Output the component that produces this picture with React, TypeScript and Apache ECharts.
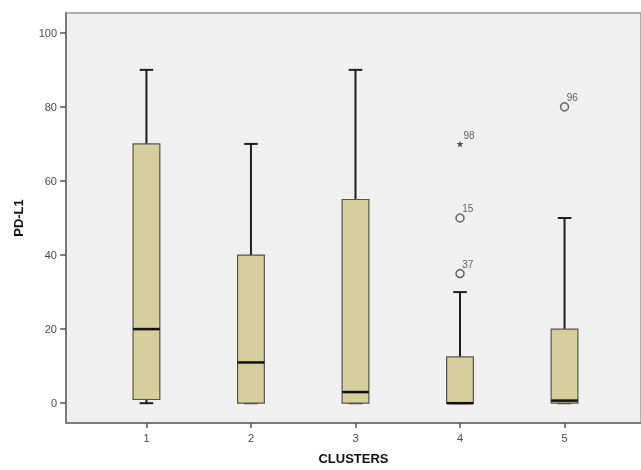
import React, { useEffect, useRef } from "react";
import * as echarts from "echarts";

const categories = [1, 2, 3, 4, 5];
const lowWhisker = [0, 0, 0, 0, 0];
const q1 = [1, 0, 0, 0, 0];
const median = [20, 11, 3, 0, 0.7];
const q3 = [70, 40, 55, 12.5, 20];
const highWhisker = [90, 70, 90, 30, 50];

const outlierCluster = [4, 4, 5];
const outlierValue = [35, 50, 80];
const outlierId = ["37", "15", "96"];

const extremeCluster = [4];
const extremeValue = [70];
const extremeId = ["98"];

const yTicks = [0, 20, 40, 60, 80, 100];

const FONT = "'Liberation Sans', Arial, sans-serif";

export default function App() {
  const ref = useRef<HTMLDivElement>(null);

  useEffect(() => {
    if (!ref.current) return;
    const chart = echarts.init(ref.current, undefined, { renderer: "svg" });

    const boxData = categories.map((c, i) => [
      c,
      lowWhisker[i],
      q1[i],
      median[i],
      q3[i],
      highWhisker[i],
    ]);

    const renderItem = (params: any, api: any) => {
      const x = api.value(0);
      const lo = api.coord([x, api.value(1)]);
      const b1 = api.coord([x, api.value(2)]);
      const md = api.coord([x, api.value(3)]);
      const b3 = api.coord([x, api.value(4)]);
      const hi = api.coord([x, api.value(5)]);
      const unit = api.size([1, 0])[0];
      const half = unit * 0.128;
      const cap = unit * 0.065;
      const cx = lo[0];
      const whisk = { stroke: "#1e1e1e", lineWidth: 2 };
      return {
        type: "group",
        children: [
          {
            type: "line",
            shape: { x1: cx, y1: b3[1], x2: cx, y2: hi[1] },
            style: whisk,
          },
          {
            type: "line",
            shape: { x1: cx - cap, y1: hi[1], x2: cx + cap, y2: hi[1] },
            style: whisk,
          },
          {
            type: "line",
            shape: { x1: cx, y1: lo[1], x2: cx, y2: b1[1] },
            style: whisk,
          },
          {
            type: "line",
            shape: { x1: cx - cap, y1: lo[1], x2: cx + cap, y2: lo[1] },
            style: whisk,
          },
          {
            type: "rect",
            shape: {
              x: cx - half,
              y: b3[1],
              width: half * 2,
              height: b1[1] - b3[1],
            },
            style: { fill: "#d4cf9b", stroke: "#555555", lineWidth: 1.2 },
          },
          {
            type: "line",
            shape: { x1: cx - half, y1: md[1], x2: cx + half, y2: md[1] },
            style: { stroke: "#111111", lineWidth: 2.5 },
          },
        ],
      };
    };

    const labelStyle = {
      show: true,
      position: [7, -9.5],
      color: "#3a3a3a",
      fontSize: 10,
      fontFamily: FONT,
    };

    chart.setOption({
      animation: false,
      grid: {
        left: 66,
        top: 13,
        right: -4,
        bottom: 43,
        show: true,
        backgroundColor: "#f0f0f0",
        borderColor: "#9a9a9a",
        borderWidth: 1.5,
      },
      xAxis: {
        type: "value",
        min: 0.2304,
        max: 5.7316,
        splitLine: { show: false },
        axisLine: {
          show: true,
          onZero: false,
          lineStyle: { color: "#7a7a7a", width: 2 },
        },
        axisTick: {
          show: true,
          customValues: categories,
          length: 5,
          lineStyle: { color: "#555555", width: 1.5 },
        },
        axisLabel: {
          customValues: categories,
          color: "#4a4a4a",
          fontSize: 11,
          fontFamily: FONT,
          margin: 9,
        },
        name: "CLUSTERS",
        nameLocation: "middle",
        nameGap: 29,
        nameTextStyle: {
          color: "#111111",
          fontSize: 13,
          fontWeight: "bold",
          fontFamily: FONT,
        },
      },
      yAxis: {
        type: "value",
        min: -5.35,
        max: 105.35,
        splitLine: { show: false },
        axisLine: {
          show: true,
          onZero: false,
          lineStyle: { color: "#7a7a7a", width: 2 },
        },
        axisTick: {
          show: true,
          customValues: yTicks,
          length: 6,
          lineStyle: { color: "#555555", width: 1.5 },
        },
        axisLabel: {
          customValues: yTicks,
          color: "#4a4a4a",
          fontSize: 11,
          fontFamily: FONT,
          margin: 9,
        },
        name: "PD-L1",
        nameLocation: "middle",
        nameGap: 41,
        nameTextStyle: {
          color: "#111111",
          fontSize: 13,
          fontWeight: "bold",
          fontFamily: FONT,
        },
      },
      series: [
        {
          type: "custom",
          renderItem,
          data: boxData,
          encode: { x: 0, y: [1, 2, 3, 4, 5] },
          z: 2,
        },
        {
          type: "scatter",
          data: outlierCluster.map((c, i) => ({
            value: [c, outlierValue[i]],
            label: { ...labelStyle, formatter: outlierId[i] },
          })),
          symbol: "circle",
          symbolSize: 8,
          itemStyle: { color: "#f0f0f0", borderColor: "#444444", borderWidth: 1.5 },
          z: 3,
        },
        {
          type: "scatter",
          data: extremeCluster.map((c, i) => ({
            value: [c, extremeValue[i]],
            label: { ...labelStyle, formatter: extremeId[i] },
          })),
          symbol:
            "path://M50,0 L61,35 L98,35 L68,57 L79,91 L50,70 L21,91 L32,57 L2,35 L39,35 Z",
          symbolSize: 7,
          itemStyle: { color: "#222222" },
          z: 3,
        },
      ],
    });

    return () => chart.dispose();
  }, []);

  return (
    <div
      ref={ref}
      style={{ position: "fixed", left: 0, top: 0, width: 641, height: 470 }}
    />
  );
}
